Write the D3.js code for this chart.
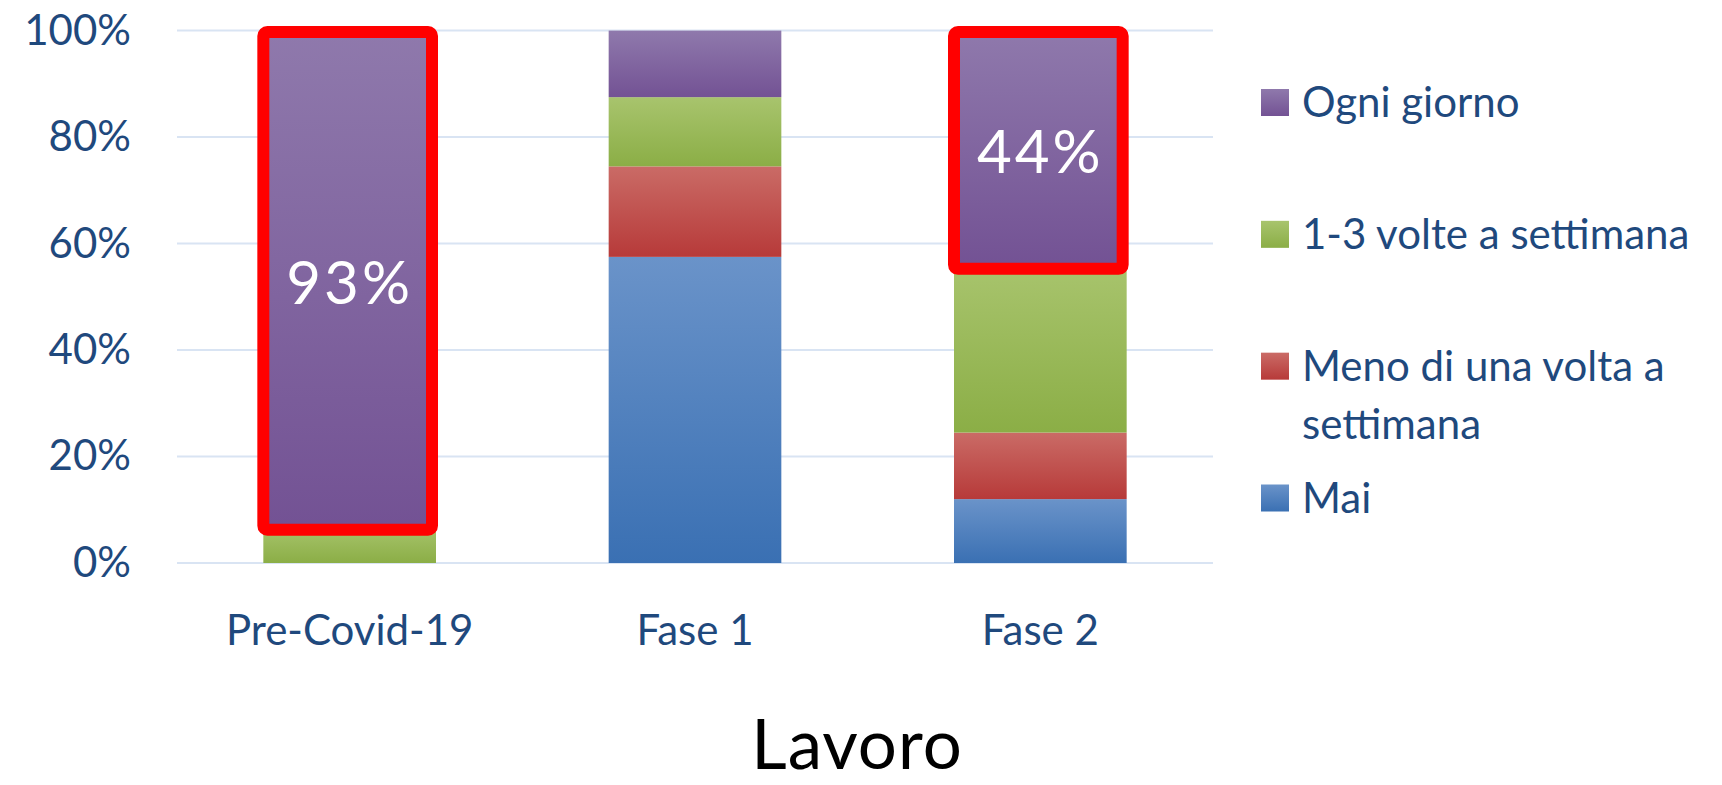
<!DOCTYPE html>
<html>
<head>
<meta charset="utf-8">
<script src="https://cdn.jsdelivr.net/npm/d3@7"></script>
<style>
  html, body { margin: 0; padding: 0; background: #fff; }
  svg { display: block; }
</style>
</head>
<body>
<svg id="chart" width="1722" height="785"></svg>
<script>
const categories = ['Pre-Covid-19', 'Fase 1', 'Fase 2'];
const seriesNames = ['Mai', 'Meno di una volta a settimana', '1-3 volte a settimana', 'Ogni giorno'];
const maiValues = [0, 57.5, 12];
const menoValues = [0, 17, 12.5];
const volteValues = [7, 13, 31.5];
const ogniValues = [93, 12.5, 44];
const yTicks = [0, 20, 40, 60, 80, 100];
// highlighted segments: [category, series, label]
const highlights = [
    ['Pre-Covid-19', 'Ogni giorno', '93%'],
    ['Fase 2', 'Ogni giorno', '44%']
];
const legendLines = {
    'Mai': ['Mai'],
    'Meno di una volta a settimana': ['Meno di una volta a', 'settimana'],
    '1-3 volte a settimana': ['1-3 volte a settimana'],
    'Ogni giorno': ['Ogni giorno']
};

const colors = {
    'Mai': ['#6a93c9', '#3a70b3'],
    'Meno di una volta a settimana': ['#ca6b66', '#b73a39'],
    '1-3 volte a settimana': ['#a8c46d', '#8bae46'],
    'Ogni giorno': ['#8f79ac', '#735294']
};

const textColor = '#1f497d';
const font = 'Lato, "Open Sans", sans-serif';

const svg = d3.select('#chart');
const margin = { left: 177, right: 509, top: 30.6, bottom: 222 };
const width = 1722 - margin.left - margin.right;
const height = 785 - margin.top - margin.bottom;

const rows = categories.map((c, i) => ({
    cat: c,
    'Mai': maiValues[i],
    'Meno di una volta a settimana': menoValues[i],
    '1-3 volte a settimana': volteValues[i],
    'Ogni giorno': ogniValues[i]
}));
const stacked = d3.stack().keys(seriesNames)(rows);

const x = d3.scaleBand().domain(categories).range([margin.left, margin.left + width])
    .paddingInner(0.5).paddingOuter(0.25);
const y = d3.scaleLinear().domain([0, 100]).range([margin.top + height, margin.top]);

// gradients
const defs = svg.append('defs');
seriesNames.forEach((s, i) => {
    const g = defs.append('linearGradient')
        .attr('id', 'grad' + i)
        .attr('x1', 0).attr('y1', 0).attr('x2', 0).attr('y2', 1);
    g.append('stop').attr('offset', '0%').attr('stop-color', colors[s][0]);
    g.append('stop').attr('offset', '100%').attr('stop-color', colors[s][1]);
});

// gridlines
svg.append('g')
    .selectAll('line')
    .data(yTicks)
    .enter().append('line')
    .attr('x1', margin.left)
    .attr('x2', margin.left + width)
    .attr('y1', d => y(d))
    .attr('y2', d => y(d))
    .attr('stroke', '#d9e4f3')
    .attr('stroke-width', 2);

// y axis labels
const yAxis = d3.axisLeft(y).tickValues(yTicks).tickFormat(d => d + '%').tickSize(0).tickPadding(46);
const yg = svg.append('g').attr('transform', `translate(${margin.left},0)`).call(yAxis);
yg.select('.domain').remove();
yg.selectAll('text')
    .attr('fill', textColor)
    .style('font-family', font)
    .style('font-size', '42px');

// x axis labels
const xAxis = d3.axisBottom(x).tickSize(0).tickPadding(52);
const xg = svg.append('g').attr('transform', `translate(0,${y(0)})`).call(xAxis);
xg.select('.domain').remove();
xg.selectAll('text')
    .attr('fill', textColor)
    .style('font-family', font)
    .style('font-size', '42px');

// bars
svg.append('g')
    .selectAll('g')
    .data(stacked)
    .enter().append('g')
    .attr('fill', (d, i) => `url(#grad${i})`)
    .selectAll('rect')
    .data(d => d.filter(p => p[1] - p[0] > 0))
    .enter().append('rect')
    .attr('x', d => x(d.data.cat))
    .attr('y', d => y(d[1]))
    .attr('width', x.bandwidth())
    .attr('height', d => y(d[0]) - y(d[1]));

// highlight boxes and labels
highlights.forEach(([cat, series, label]) => {
    const layer = stacked.find(l => l.key === series);
    const seg = layer[categories.indexOf(cat)];
    const top = y(seg[1]) + 1.5;
    const bottom = y(seg[0]) + 4;
    const x0 = x(cat);
    svg.append('rect')
        .attr('x', x0)
        .attr('y', top)
        .attr('width', x.bandwidth() - 4)
        .attr('height', bottom - top)
        .attr('rx', 4)
        .attr('fill', 'none')
        .attr('stroke', '#ff0000')
        .attr('stroke-width', 12);
    svg.append('text')
        .attr('x', x0 + x.bandwidth() / 2)
        .attr('y', (top + bottom) / 2 + 23)
        .attr('text-anchor', 'middle')
        .attr('fill', '#fff')
        .style('font-family', font)
        .style('font-weight', 400)
        .style('font-size', '60px')
        .style('letter-spacing', '3px')
        .text(label);
});

// legend
const legendY = d3.scalePoint().domain(seriesNames.slice().reverse()).range([102.5, 498]);
const legend = svg.append('g');
seriesNames.forEach((s, i) => {
    const cy = legendY(s);
    legend.append('rect')
        .attr('x', 1261)
        .attr('y', cy - 13.5)
        .attr('width', 28)
        .attr('height', 27)
        .attr('fill', `url(#grad${i})`);
    legendLines[s].forEach((line, j) => {
        legend.append('text')
            .attr('x', 1302)
            .attr('y', cy + 14.5 + j * 58)
            .attr('fill', textColor)
            .style('font-family', font)
            .style('font-size', '42px')
            .text(line);
    });
});

// title
svg.append('text')
    .attr('x', 857)
    .attr('y', 769)
    .attr('text-anchor', 'middle')
    .attr('fill', '#000')
    .style('font-family', font)
    .style('font-weight', 400)
    .style('font-size', '69px')
    .style('letter-spacing', '1px')
    .text('Lavoro');
</script>
</body>
</html>
